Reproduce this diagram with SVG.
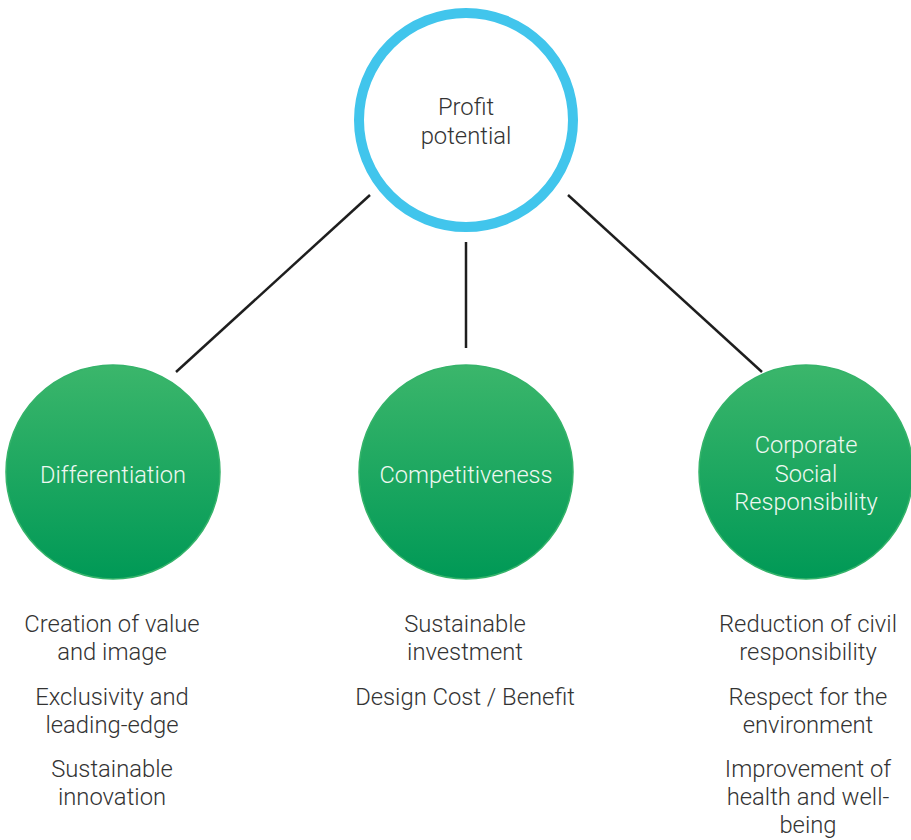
<svg xmlns="http://www.w3.org/2000/svg" width="911" height="840" viewBox="0 0 911 840">
<defs>
<linearGradient id="g" x1="0" y1="0" x2="0" y2="1">
<stop offset="0" stop-color="#3bb66b"/>
<stop offset="1" stop-color="#009956"/>
</linearGradient>
<style>
.t{font-family:Roboto,"Liberation Sans",sans-serif;font-weight:300;font-size:23.8px;text-anchor:middle;fill:#333333}
.w{font-family:Roboto,"Liberation Sans",sans-serif;font-weight:300;font-size:23.6px;text-anchor:middle;fill:#eef8f1}
.c{fill:url(#g);stroke:#35b36a;stroke-width:1.5}
.l{stroke:#1e1e1e;stroke-width:2.5;fill:none}
</style>
</defs>
<rect width="911" height="840" fill="#ffffff"/>
<g id="connectors">
<line class="l" x1="370" y1="195" x2="176" y2="372"/>
<line class="l" x1="466" y1="242" x2="466" y2="348"/>
<line class="l" x1="568" y1="195" x2="762" y2="372"/>
</g>
<g id="profit">
<circle cx="466" cy="120" r="107" fill="#ffffff" stroke="#41c5ec" stroke-width="10"/>
<text class="t" x="466" y="115">Profit</text>
<text class="t" x="466" y="144">potential</text>
</g>
<g id="differentiation">
<circle class="c" cx="113" cy="472" r="107"/>
<text class="w" x="113" y="483">Differentiation</text>
</g>
<g id="competitiveness">
<circle class="c" cx="466" cy="472" r="107"/>
<text class="w" x="466" y="483">Competitiveness</text>
</g>
<g id="csr">
<circle class="c" cx="806" cy="472" r="107"/>
<text class="w" x="806" y="453">Corporate</text>
<text class="w" x="806" y="482">Social</text>
<text class="w" x="806" y="510">Responsibility</text>
</g>
<g id="differentiation-items">
<text class="t" x="112" y="632">Creation of value</text>
<text class="t" x="112" y="660">and image</text>
<text class="t" x="112" y="705">Exclusivity and</text>
<text class="t" x="112" y="733">leading-edge</text>
<text class="t" x="112" y="777">Sustainable</text>
<text class="t" x="112" y="805">innovation</text>
</g>
<g id="competitiveness-items">
<text class="t" x="465" y="632">Sustainable</text>
<text class="t" x="465" y="660">investment</text>
<text class="t" x="465" y="705">Design Cost / Benefit</text>
</g>
<g id="csr-items">
<text class="t" x="808" y="632">Reduction of civil</text>
<text class="t" x="808" y="660">responsibility</text>
<text class="t" x="808" y="705">Respect for the</text>
<text class="t" x="808" y="733">environment</text>
<text class="t" x="808" y="777">Improvement of</text>
<text class="t" x="808" y="805">health and well-</text>
<text class="t" x="808" y="833">being</text>
</g>
</svg>
